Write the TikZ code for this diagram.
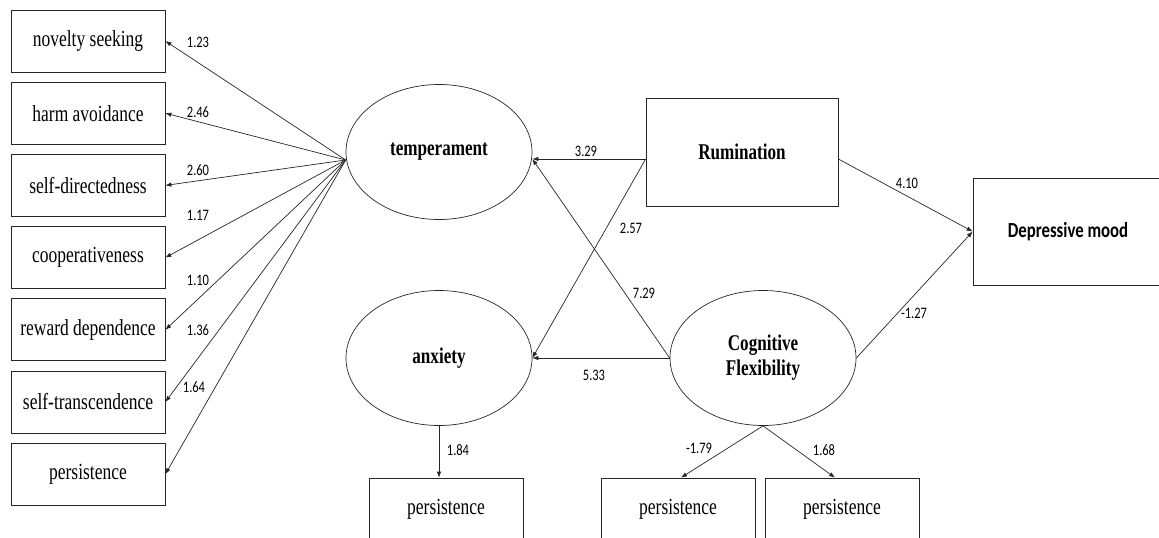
\documentclass[tikz,border=0pt]{standalone}
\usepackage{fontspec}
\setmainfont{Liberation Serif}[FakeStretch=0.76]
\newfontfamily\calibri{Carlito}[FakeStretch=0.78]
\usetikzlibrary{positioning,shapes.geometric,arrows.meta}

\begin{document}
\begin{tikzpicture}[x=1pt,y=-1pt,
    trait/.style={draw=black!85,line width=.7pt,minimum width=154pt,minimum height=62pt,
      inner sep=0pt,font=\fontsize{23}{26}\selectfont},
    latent/.style={ellipse,draw=black!85,line width=.7pt,minimum width=186pt,minimum height=135pt,
      inner sep=0pt,align=center,font=\fontsize{22.5}{25}\selectfont\bfseries},
    conn/.style={->,draw=black!85,line width=.7pt},
    coef/.style={inner sep=0pt,font=\calibri\fontsize{16}{18}\selectfont}]
  \useasboundingbox (0,0) rectangle (1159,538);
  \clip (0,0) rectangle (1159,538);
  \tikzset{>={Latex[length=6pt,width=4.5pt]}}

  \node[trait] (ns) at (88,41) {novelty seeking};
  \node[trait,below=9.5pt of ns] (ha) {harm avoidance};
  \node[trait,below=9.5pt of ha] (sd) {self-directedness};
  \node[trait,below=9.5pt of sd] (co) {cooperativeness};
  \node[trait,below=9.5pt of co] (rd) {reward dependence};
  \node[trait,below=9.5pt of rd] (st) {self-transcendence};
  \node[trait,below=9.5pt of st] (pe) {persistence};

  \node[latent] (temp) at (439,152) {temperament};
  \node[latent] (anx) at (439,358) {anxiety};
  \node[latent] (cog) at (763,358) {Cognitive\\Flexibility};
  \node[draw=black!85,line width=.7pt,minimum width=192pt,minimum height=108pt,
    font=\fontsize{22.5}{25}\selectfont\bfseries] (rum) at (742,152) {Rumination};
  \node[draw=black!85,line width=.7pt,minimum width=190pt,minimum height=107pt,
    font=\calibri\bfseries\fontsize{21.5}{24}\selectfont] (dep) at (1068,231.5) {Depressive mood};

  \node[trait] (p1) at (446,509) {persistence};
  \node[trait] (p2) at (678,509) {persistence};
  \node[trait] (p3) at (842,509) {persistence};

  \coordinate (hub) at ([yshift=-8pt]temp.west);
  \coordinate (rw) at ([yshift=-7pt]rum.west);
  \coordinate (te) at (rw -| temp.east);

  \foreach \t in {ns,ha,sd,co,rd,st,pe}
    \draw[conn] (hub) -- (\t.east);

  \draw[conn] (rw) -- (te);
  \draw[conn] (rw) -- (anx.east);
  \draw[conn] (cog.west) -- (te);
  \draw[conn] (cog.west) -- (anx.east);
  \draw[conn] (rw -| rum.east) -- (dep.west);
  \draw[conn] (cog.east) -- (dep.west);
  \draw[conn] (anx.south) -- (anx.south |- p1.north);
  \draw[conn] (cog.south) -- ([xshift=3pt]p2.north);
  \draw[conn] (cog.south) -- ([xshift=-7pt]p3.north);

  \foreach \v/\x/\y [count=\i] in {1.23/198/42, 2.46/198/112, 2.60/198/170, 1.17/198/215,
      1.10/198/280, 1.36/198/330, 1.64/194/387, 3.29/586/151, 2.57/631/228, 7.29/644/293,
      5.33/594/375, 4.10/907/183, -1.27/914/313, 1.84/458/450, -1.79/699/448, 1.68/824/450}
    \node[coef] (c\i) at (\x,\y) {\v};
\end{tikzpicture}
\end{document}
